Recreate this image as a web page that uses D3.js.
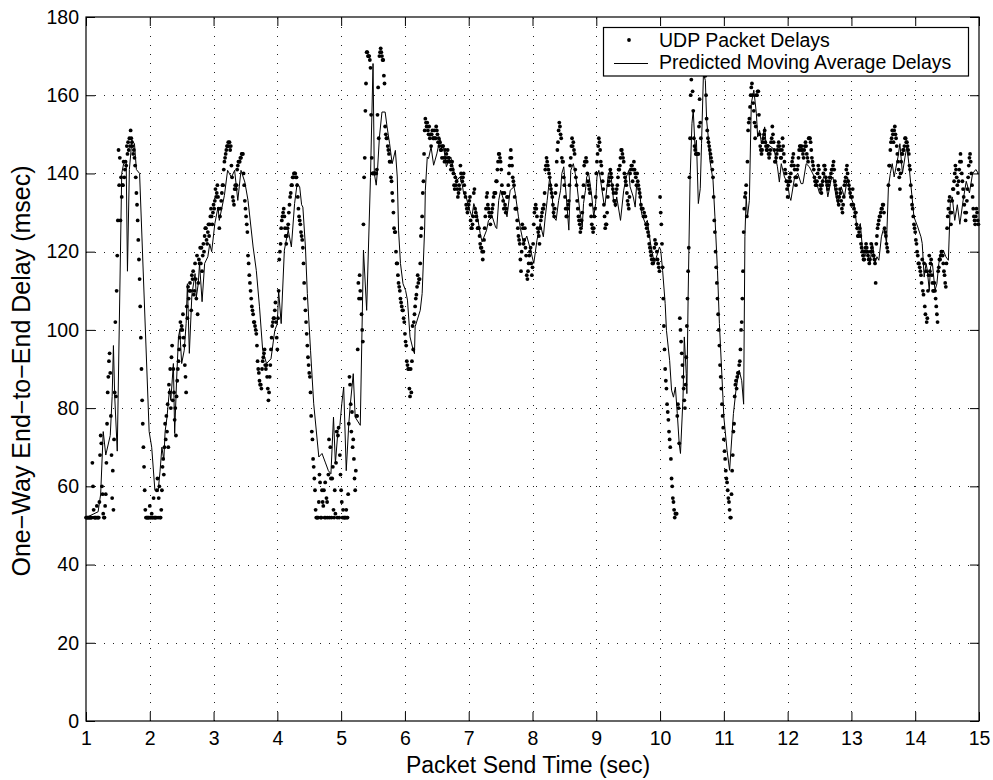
<!DOCTYPE html>
<html>
<head>
<meta charset="utf-8">
<script src="https://cdn.jsdelivr.net/npm/d3@7"></script>
<style>
  body { margin: 0; background: #fff; }
  svg { display: block; font-family: "Liberation Sans", Arial, Helvetica, sans-serif; }
</style>
</head>
<body>
<svg id="chart" width="993" height="780"></svg>
<script>
// Packets are sent at a constant rate starting at t = 1 s.
const sendStart = 1.0;
const sendInterval = 0.01;

// Measured one-way delay (msec) of each UDP packet, one row per 0.1 s of send time.
const udpDelays = [
  52,52,52,52,52,52,52,52,52,52, 66,60,54,52,52,52,52,55,52,52,
  52,56,68,73,71,60,58,53,52,52, 55,58,66,76,84,88,92,94,89,78,
  68,57,64,54,72,84,102,83,110,119, 128,146,137,144,128,139,134,137,137,143,
  139,141,143,142,147,145,148,146,149,147, 151,149,148,147,145,146,144,142,139,135,
  132,128,123,118,113,106,98,90,82,76, 70,65,59,54,52,52,52,52,52,52,
  55,52,52,53,52,52,57,52,52,52, 52,59,62,52,57,60,52,52,54,59,
  65,67,63,70,76,72,78,74,81,70, 86,84,90,80,93,96,82,90,84,77,
  80,73,83,87,90,92,95,98,102,100, 101,100,104,98,96,91,88,84,106,103,
  111,108,110,112,110,105,114,113,115,109, 110,117,113,108,119,104,112,118,117,121,
  117,121,115,119,122,120,124,126,126,123, 122,125,127,124,127,129,131,129,127,130,
  132,131,133,136,134,135,137,134,131,126, 129,131,133,135,137,137,141,143,144,145,
  146,147,147,148,147,148,146,147,142,139, 134,133,132,136,137,136,137,141,142,143,
  143,143,144,144,145,145,145,140,137,133, 131,129,127,125,119,117,114,112,110,108,
  106,105,104,102,102,101,100,99,96,92, 90,89,87,86,86,85,90,92,93,94,
  95,91,90,91,88,85,82,84,88,91, 95,98,101,102,103,103,105,107,102,98,
  95,103,110,118,120,122,126,128,129,130, 131,129,126,124,122,124,126,127,130,132,
  134,135,137,137,139,139,140,140,140,139, 139,137,134,131,129,128,127,125,124,123,
  121,117,112,108,105,102,99,96,93,91, 89,88,84,78,74,72,67,65,62,59,
  54,52,52,52,52,56,63,61,52,52, 59,56,55,59,52,61,52,57,56,52,
  63,72,52,70,62,52,62,65,54,52, 59,53,66,74,52,73,75,52,68,63,
  59,56,52,54,52,52,52,52,54,52, 52,58,76,88,86,81,74,79,70,72,
  67,62,59,64,78,78,95,112,108,114, 110,108,104,100,97,127,139,144,156,163,
  171,171,170,170,170,169,167,155,144,140, 140,140,140,140,140,140,141,155,162,149,
  170,171,172,171,170,169,169,165,163,152, 150,149,149,147,146,145,143,143,139,138,
  135,133,130,126,125,125,120,117,117,114, 112,111,110,108,107,106,105,105,103,102,
  99,97,96,92,91,90,90,85,83,90, 84,92,101,95,102,104,106,108,109,111,
  114,112,113,113,117,124,126,129,135,138, 145,151,154,153,152,153,151,150,152,149,
  150,147,150,151,149,149,151,149,149,152, 151,150,148,149,147,148,146,146,144,147,
  147,144,143,146,144,145,143,146,144,144, 143,143,141,142,143,141,140,137,136,139,
  137,138,136,134,135,137,136,142,140,139, 138,139,140,137,135,134,132,131,130,131,
  132,133,134,128,126,126,127,129,135,136, 131,130,129,128,126,126,126,124,122,121,
  121,120,118,120,123,126,129,131,134,135, 132,131,130,129,127,129,130,131,132,134,
  135,135,135,138,138,141,143,145,145,144, 143,141,137,135,133,131,135,132,130,131,
  134,134,137,140,142,144,146,144,142,139, 138,137,134,131,131,131,128,126,124,123,
  122,118,115,120,127,126,122,123,126,121, 119,114,113,115,117,119,120,121,117,114,
  116,122,127,130,131,132,131,129,126,125, 124,122,126,128,129,130,131,131,132,135,
  141,142,144,143,142,141,140,139,137,136, 135,134,132,130,129,131,135,137,143,146,
  148,151,153,152,150,149,144,143,143,139, 137,134,131,129,129,131,132,133,137,142,
  144,147,149,147,148,146,145,141,139,137, 133,131,129,128,127,125,126,128,130,134,
  137,142,143,143,144,143,140,138,137,136, 135,132,129,127,126,125,126,129,131,134,
  140,143,145,147,149,148,146,143,142,140, 138,136,132,129,126,127,127,130,134,137,
  138,139,141,140,139,137,136,135,133,133, 132,135,136,137,139,141,141,142,144,146,
  146,145,144,143,140,139,138,137,135,133, 132,131,134,140,141,142,142,138,141,143,
  141,140,139,137,140,138,137,136,135,134, 132,131,131,131,129,130,129,129,127,126,
  127,125,124,122,121,120,119,118,117,117, 118,121,123,122,122,120,118,117,116,115,
  134,130,127,122,116,108,101,95,90,87, 85,81,79,77,74,72,70,67,62,60,
  57,56,54,52,53,53,53,78,81,80, 71,103,100,97,94,91,88,85,82,80,
  86,93,101,108,115,121,139,149,160,164, 167,161,156,149,147,146,145,145,145,145,
  145,152,159,153,149,166,166,167,167,166, 165,165,160,154,151,149,148,147,146,145,
  144,143,141,139,134,128,125,120,116,112, 108,104,100,96,91,88,85,81,78,75,
  72,69,67,64,62,61,59,57,56,54, 52,52,58,64,68,74,76,83,86,87,
  85,88,89,89,91,92,95,100,102,108, 115,125,131,134,135,137,129,143,151,153,
  154,157,160,162,163,160,158,156,153,149, 152,160,160,161,161,155,150,147,146,145,
  146,148,149,150,151,148,147,146,146,147, 145,144,145,146,148,149,152,150,148,146,
  143,143,144,145,146,147,148,147,146,144, 144,146,149,147,145,143,141,140,138,136,
  134,137,138,139,138,140,142,143,144,145, 142,141,139,137,139,141,142,144,146,147,
  147,146,147,146,145,144,146,147,148,147, 145,144,143,149,149,149,148,146,144,143,
  142,141,139,138,137,137,138,140,142,141, 139,137,136,135,137,138,140,142,142,141,
  139,138,137,136,137,138,139,139,140,141, 141,142,143,141,138,137,136,135,134,133,
  132,134,136,135,133,131,130,132,134,137, 138,139,141,142,140,138,137,136,135,134,
  132,134,136,132,131,129,130,130,127,126, 124,124,125,126,124,122,121,120,119,118,
  118,120,121,122,121,120,119,118,117,118, 120,122,121,120,119,119,118,117,112,122,
  124,126,127,128,129,129,130,131,131,132, 132,130,126,125,124,122,121,120,137,142,
  142,146,148,149,151,150,148,151,152,150, 149,147,145,143,141,139,136,140,143,145,
  145,146,146,147,149,149,148,148,147,146, 145,142,141,137,134,132,131,129,127,126,
  125,123,122,120,119,117,117,116,115,114, 112,118,110,109,117,106,104,115,102,103,
  110,114,119,115,117,118,114,112,110,110, 112,110,108,106,104,102,115,116,118,118,
  119,120,120,119,117,115,114,112,111,117, 126,129,131,133,134,130,127,130,133,136,
  136,138,140,142,141,139,137,135,138,141, 143,145,143,140,138,136,134,132,130,128,
  130,133,136,139,142,144,145,143,140,137, 134,131,129,128,127,129,131,130,128,127
];

// Predicted moving-average delay: send time (sec) and delay (msec) at each vertex.
const predTimes = [
  1.00,1.19,1.23,1.27,1.31,1.38,1.41,1.43,1.45,1.49,1.56,1.59,1.63,1.65,1.68,1.72,1.76,1.79,1.84,
  1.99,2.03,2.08,2.13,2.16,2.19,2.22,2.24,2.27,2.31,2.33,2.37,2.39,2.42,2.45,2.47,2.50,2.54,2.57,
  2.59,2.62,2.66,2.71,2.73,2.76,2.78,2.82,2.86,2.91,2.94,2.97,3.02,3.07,3.09,3.17,3.22,3.28,3.33,
  3.38,3.43,3.49,3.54,3.62,3.67,3.72,3.77,3.83,3.90,3.96,4.00,4.02,4.06,4.11,4.17,4.22,4.27,4.31,
  4.35,4.38,4.40,4.44,4.47,4.52,4.57,4.65,4.70,4.75,4.80,4.84,4.88,4.91,4.95,4.98,5.01,5.04,5.08,
  5.12,5.14,5.19,5.22,5.30,5.35,5.40,5.46,5.50,5.52,5.55,5.57,5.60,5.64,5.69,5.72,5.76,5.80,5.85,
  5.88,5.90,5.93,5.97,6.01,6.04,6.08,6.13,6.15,6.16,6.24,6.27,6.31,6.32,6.35,6.37,6.41,6.45,6.50,
  6.55,6.58,6.61,6.65,6.69,6.72,6.77,6.82,6.86,6.90,6.92,6.96,7.00,7.05,7.08,7.13,7.18,7.21,7.28,
  7.31,7.37,7.42,7.44,7.47,7.50,7.55,7.60,7.65,7.71,7.73,7.78,7.81,7.86,7.91,7.97,8.02,8.07,8.12,
  8.17,8.20,8.23,8.27,8.31,8.33,8.37,8.41,8.44,8.46,8.49,8.53,8.57,8.60,8.64,8.67,8.70,8.74,8.78,
  8.80,8.83,8.85,8.88,8.91,8.93,8.96,8.99,9.01,9.04,9.06,9.09,9.12,9.14,9.19,9.22,9.25,9.27,9.30,
  9.32,9.38,9.43,9.47,9.51,9.53,9.58,9.61,9.63,9.68,9.71,9.77,9.80,9.85,9.89,9.91,9.96,9.99,10.01,
  10.04,10.08,10.10,10.15,10.18,10.21,10.24,10.27,10.30,10.32,10.36,10.38,10.41,10.42,10.44,10.47,
  10.50,10.52,10.55,10.57,10.60,10.63,10.65,10.68,10.71,10.73,10.76,10.78,10.83,10.86,10.90,10.93,
  10.97,11.00,11.05,11.09,11.15,11.19,11.24,11.28,11.31,11.33,11.35,11.37,11.40,11.43,11.47,11.51,
  11.53,11.56,11.59,11.64,11.66,11.71,11.77,11.79,11.84,11.87,11.90,11.95,12.00,12.03,12.05,12.11,
  12.16,12.21,12.24,12.29,12.34,12.42,12.47,12.50,12.55,12.58,12.63,12.68,12.71,12.76,12.79,12.84,
  12.89,12.94,12.99,13.05,13.09,13.14,13.17,13.21,13.25,13.29,13.33,13.37,13.40,13.43,13.47,13.51,
  13.55,13.58,13.61,13.64,13.67,13.73,13.76,13.80,13.84,13.87,13.90,13.93,13.98,14.04,14.09,14.11,
  14.14,14.17,14.19,14.22,14.24,14.27,14.31,14.34,14.37,14.40,14.44,14.48,14.52,14.55,14.58,14.62,
  14.66,14.70,14.75,14.80,14.85,14.90,14.95,14.99
];
const predDelays = [
  52,53.5,58,74,68,73,83,96,83,69,140,142.5,143,115,141,148.5,147.6,141,140,
  74,70,59,58.6,63.7,70,66.7,74,77.7,85,82,91.4,73.5,87,98.2,99.9,91.4,94.8,101.6,
  111.8,94,109,114.4,108.4,111.8,117,107.2,117,118.7,122,120,127.2,131.4,128,134.4,140.8,139,140.8,
  133.1,140.8,137.8,133.1,121.2,115.2,105.9,94.8,91.4,92.6,99.9,101.6,110.1,101.6,120.4,125.5,121.2,132.3,137.4,
  136.6,132,131.4,121.2,109.3,94.8,81.1,67.5,68.4,66.2,64,63.2,77.7,65.8,74.3,75.5,81.1,85.4,64,
  76,80.3,88.8,77.7,75.6,120.4,105,139,168.1,140,137,140.8,149.3,155.7,155.7,151.9,147.6,142.5,145.9,
  139.1,125.5,117,111.8,110.1,107.6,98.2,94.8,93.9,100.8,105,109.3,126.3,135.7,144.2,143.8,146.8,142.1,145,
  148.9,146,146.4,141.7,143.4,144.2,140.4,138.3,139.1,137,134.9,134,131.4,128.9,132.3,129.7,124.6,122.5,125.5,
  128,128.9,126.3,125.9,133.1,135.7,133.1,128.9,135.7,136.6,134.9,128.9,126,122,124,120.4,117,122.9,127.2,
  123.8,128.9,133.1,139.1,134,128.9,128,133.1,135.7,140,141.7,134,125.5,140.8,142.5,140,136.6,130.6,126.3,
  132.3,135.7,139.1,140,136.6,134,128.9,132.3,139.1,140.8,139.1,135.7,132.3,132.3,140,140.8,136.6,133.1,131.4,
  134,128,135.7,139.1,140.8,136.6,134,131.4,136.6,135.7,129.7,127.2,128,122.1,118.7,117,119.5,121.2,120.4,
  115.2,106.7,99.9,92.2,84.6,82.8,85.4,78.6,70.9,68.4,82.8,98.2,88.8,83.7,108.4,138.3,
  152.8,156.2,146,148.5,132.3,136.1,147.6,165.5,163.8,153.6,148.5,143.4,138.3,128.9,115.2,101.6,
  88,77.7,69.2,64.1,78.6,84.6,89.7,87,81,123.8,134,128.9,133.1,157.9,161.3,155.3,
  149.3,151,147.6,151.9,147.6,147.2,146.4,145.9,141.7,137.8,142.5,139.1,137.4,134,133.1,139.1,
  140,137.4,137.4,142.5,141.7,139.1,136.6,134.9,138.3,140,134,138.3,139.1,134,132.3,136.6,
  134,139.1,134,131.4,125.5,127.2,121.2,118.7,120.4,117,122.1,117,118.7,117.8,123.8,126.3,
  122.1,136.6,140,142.5,139.1,144.2,147.6,140,144.2,146.8,142.5,137.4,128.9,126.3,123.8,122.1,
  113.5,117,115.2,110.1,116.1,117,110.1,111.8,117,119.5,120.4,118.7,117.8,132.3,134,128,
  132,127,133,138,135,140,141,140
];

const xTicks = [1,2,3,4,5,6,7,8,9,10,11,12,13,14,15];
const yTicks = [0,20,40,60,80,100,120,140,160,180];
const legendLabels = ["UDP Packet Delays", "Predicted Moving Average Delays"];
const xTitle = "Packet Send Time (sec)";
const yTitle = "One\u2212Way End\u2212to\u2212End Delay (msec)";

const svg = d3.select("#chart");
const frame = { left: 86, right: 979, top: 17, bottom: 721 };

const x = d3.scaleLinear().domain([1, 15]).range([frame.left, frame.right]);
const y = d3.scaleLinear().domain([0, 180]).range([frame.bottom, frame.top]);

svg.append("rect").attr("width", 993).attr("height", 780).attr("fill", "#fff");

// dotted grid
const grid = svg.append("g").attr("stroke", "#222").attr("stroke-width", 1)
  .attr("stroke-dasharray", "1,8");
grid.selectAll("line.v").data(xTicks.slice(1, -1)).join("line").attr("class", "v")
  .attr("x1", d => Math.round(x(d)) + 0.5).attr("x2", d => Math.round(x(d)) + 0.5)
  .attr("y1", frame.bottom).attr("y2", frame.top);
grid.selectAll("line.h").data(yTicks.slice(1, -1)).join("line").attr("class", "h")
  .attr("y1", d => Math.round(y(d)) + 0.5).attr("y2", d => Math.round(y(d)) + 0.5)
  .attr("x1", frame.left).attr("x2", frame.right);

const fontSize = "19.5px";

// axes with inward ticks on all four sides
const gx = svg.append("g").attr("transform", `translate(0,${frame.bottom})`)
  .call(d3.axisBottom(x).tickValues(xTicks).tickFormat(d3.format("d")).tickSize(-9).tickPadding(10.5));
const gy = svg.append("g").attr("transform", `translate(${frame.left},0)`)
  .call(d3.axisLeft(y).tickValues(yTicks).tickFormat(d3.format("d")).tickSize(-9).tickPadding(7));
const gt = svg.append("g").attr("transform", `translate(0,${frame.top})`)
  .call(d3.axisTop(x).tickValues(xTicks).tickFormat("").tickSize(-9));
const gr = svg.append("g").attr("transform", `translate(${frame.right},0)`)
  .call(d3.axisRight(y).tickValues(yTicks).tickFormat("").tickSize(-9));
[gx, gy, gt, gr].forEach(g => {
  g.select(".domain").remove();
  g.selectAll(".tick line").attr("stroke", "#000").attr("stroke-width", 1);
  g.selectAll("text").attr("fill", "#000").style("font-size", fontSize)
    .style("font-family", '"Liberation Sans", Arial, sans-serif');
});

// packet delay markers
const plot = svg.append("g");
plot.selectAll("circle").data(udpDelays).join("circle")
  .attr("cx", (d, i) => x(sendStart + i * sendInterval))
  .attr("cy", d => y(d))
  .attr("r", 1.9)
  .attr("fill", "#000");

// predicted moving average
const line = d3.line().x(d => x(d[0])).y(d => y(d[1]));
plot.append("path")
  .datum(predTimes.map((t, i) => [t, predDelays[i]]))
  .attr("d", line)
  .attr("fill", "none").attr("stroke", "#000").attr("stroke-width", 1);

// frame
svg.append("rect").attr("x", frame.left).attr("y", frame.top)
  .attr("width", frame.right - frame.left).attr("height", frame.bottom - frame.top)
  .attr("fill", "none").attr("stroke", "#000").attr("stroke-width", 1.2);

// legend
const lg = svg.append("g");
lg.append("rect").attr("x", 603.5).attr("y", 27.5).attr("width", 365).attr("height", 48.5)
  .attr("fill", "#fff").attr("stroke", "#000").attr("stroke-width", 1.2);
lg.append("circle").attr("cx", 629).attr("cy", 40).attr("r", 1.9).attr("fill", "#000");
lg.append("line").attr("x1", 614).attr("x2", 648).attr("y1", 63.5).attr("y2", 63.5)
  .attr("stroke", "#000").attr("stroke-width", 1);
lg.selectAll("text").data(legendLabels).join("text")
  .attr("x", 659).attr("y", (d, i) => i === 0 ? 46.5 : 68.5)
  .style("font-size", fontSize).attr("fill", "#000").text(d => d);

// axis titles
svg.append("text").attr("x", 528).attr("y", 773)
  .attr("text-anchor", "middle").style("font-size", "23px").text(xTitle);
svg.append("text").attr("transform", "translate(30,371) rotate(-90)")
  .attr("text-anchor", "middle").style("font-size", "25px").text(yTitle);
</script>
</body>
</html>
